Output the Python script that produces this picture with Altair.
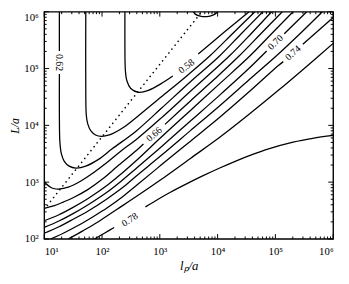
import altair as alt
import pandas as pd

# ---- contour lines, given as log10(l_p/a) and log10(L/a) ----
c056_lp = [3.580, 3.614, 3.699, 3.817, 3.919, 3.987, 4.003]
c056_L = [6.000, 5.958, 5.924, 5.916, 5.941, 5.983, 6.000]

c058a_lp = [2.396, 2.396, 2.404, 2.430, 2.497, 2.633, 2.802, 3.022, 3.225]
c058a_L = [6.000, 5.392, 4.971, 4.785, 4.650, 4.582, 4.616, 4.734, 4.869]
c058b_lp = [3.665, 4.122, 4.545]
c058b_L = [5.257, 5.646, 6.000]

c060_lp = [1.719, 1.719, 1.728, 1.753, 1.804, 1.888, 1.990, 2.125, 2.362, 2.599, 3.022, 3.445, 3.868, 4.257, 4.646]
c060_L = [6.000, 4.549, 4.177, 4.025, 3.907, 3.831, 3.806, 3.831, 3.958, 4.143, 4.498, 4.852, 5.224, 5.612, 6.000]

c062a_lp = [1.262, 1.262]
c062a_L = [6.000, 5.308]
c062b_lp = [1.262, 1.262, 1.271, 1.296, 1.347, 1.431, 1.550, 1.719, 1.939, 2.176, 2.599, 3.022, 3.530, 4.020, 4.409, 4.782]
c062b_L = [4.903, 4.211, 3.705, 3.502, 3.367, 3.283, 3.249, 3.283, 3.401, 3.587, 3.907, 4.295, 4.768, 5.207, 5.612, 6.000]

c064_lp = [1.000, 1.042, 1.110, 1.178, 1.245, 1.415, 1.635, 1.838, 2.091, 2.345, 2.599, 3.022, 3.530, 4.206, 4.579, 4.934]
c064_L = [3.013, 2.962, 2.911, 2.884, 2.878, 2.911, 3.021, 3.156, 3.350, 3.561, 3.755, 4.127, 4.599, 5.224, 5.612, 6.000]

c066a_lp = [1.000, 1.161, 1.330, 1.499, 1.753, 2.007, 2.261, 2.599, 2.717]
c066a_L = [2.540, 2.582, 2.650, 2.726, 2.869, 3.055, 3.274, 3.561, 3.671]
c066b_lp = [3.090, 3.530, 3.953, 4.376, 4.748, 5.120]
c066b_L = [4.017, 4.430, 4.819, 5.224, 5.612, 6.000]

c068_lp = [1.000, 1.245, 1.499, 1.753, 2.091, 2.345, 2.599, 3.022, 3.530, 4.037, 4.562, 4.934, 5.306]
c068_L = [2.321, 2.422, 2.557, 2.709, 2.945, 3.156, 3.384, 3.789, 4.262, 4.734, 5.224, 5.612, 6.000]

c070a_lp = [1.000, 1.245, 1.499, 1.753, 2.091, 2.345, 2.599, 3.022, 3.530, 4.037, 4.545, 4.849]
c070a_L = [2.203, 2.312, 2.447, 2.599, 2.827, 3.030, 3.249, 3.620, 4.076, 4.532, 5.004, 5.308]
c070b_lp = [5.154, 5.543]
c070b_L = [5.612, 6.000]

c072_lp = [1.000, 1.245, 1.499, 1.753, 2.091, 2.345, 2.599, 3.022, 3.530, 4.037, 4.545, 5.019, 5.425, 5.814]
c072_L = [2.101, 2.211, 2.346, 2.489, 2.709, 2.895, 3.114, 3.468, 3.907, 4.346, 4.802, 5.224, 5.612, 6.000]

c074a_lp = [1.110, 1.330, 1.584, 1.838, 2.091, 2.345, 2.599, 3.022, 3.530, 4.037, 4.545, 5.052, 5.137]
c074a_L = [2.000, 2.101, 2.236, 2.388, 2.549, 2.734, 2.945, 3.300, 3.722, 4.143, 4.591, 5.055, 5.122]
c074b_lp = [5.475, 6.000]
c074b_L = [5.426, 5.899]

c076_lp = [1.415, 1.668, 1.922, 2.261, 2.599, 3.022, 3.530, 4.037, 4.545, 5.052, 5.560, 6.000]
c076_L = [2.000, 2.143, 2.295, 2.523, 2.751, 3.046, 3.418, 3.789, 4.194, 4.616, 5.055, 5.443]

c078a_lp = [1.871, 2.041, 2.210]
c078a_L = [2.000, 2.101, 2.203]
c078b_lp = [2.751, 2.971, 3.191, 3.479, 3.750, 4.037, 4.325, 4.596, 4.883, 5.306, 5.645, 6.000]
c078b_L = [2.565, 2.700, 2.827, 2.979, 3.114, 3.249, 3.376, 3.485, 3.587, 3.705, 3.772, 3.823]

# dotted line (position of the minimum)
valley_lp = [1.000, 3.699]
valley_L = [2.523, 5.966]

# inline contour labels
label_text = ["0.58", "0.62", "0.66", "0.70", "0.74", "0.78"]
label_lp = [3.462, 1.262, 2.904, 5.002, 5.306, 2.481]
label_L = [5.038, 5.106, 3.840, 5.460, 5.274, 2.338]
label_angle = [322, 90, 318, 315, 318, 327]

# axis ticks
x_major = [1e1, 1e2, 1e3, 1e4, 1e5, 1e6]
y_major = [1e2, 1e3, 1e4, 1e5, 1e6]
x_minor = [k * 10 ** d for d in range(1, 6) for k in range(2, 10)]
y_minor = [k * 10 ** d for d in range(2, 6) for k in range(2, 10)]

segments = [
    ("0.56", "c056", c056_lp, c056_L),
    ("0.58", "c058a", c058a_lp, c058a_L),
    ("0.58", "c058b", c058b_lp, c058b_L),
    ("0.60", "c060", c060_lp, c060_L),
    ("0.62", "c062a", c062a_lp, c062a_L),
    ("0.62", "c062b", c062b_lp, c062b_L),
    ("0.64", "c064", c064_lp, c064_L),
    ("0.66", "c066a", c066a_lp, c066a_L),
    ("0.66", "c066b", c066b_lp, c066b_L),
    ("0.68", "c068", c068_lp, c068_L),
    ("0.70", "c070a", c070a_lp, c070a_L),
    ("0.70", "c070b", c070b_lp, c070b_L),
    ("0.72", "c072", c072_lp, c072_L),
    ("0.74", "c074a", c074a_lp, c074a_L),
    ("0.74", "c074b", c074b_lp, c074b_L),
    ("0.76", "c076", c076_lp, c076_L),
    ("0.78", "c078a", c078a_lp, c078a_L),
    ("0.78", "c078b", c078b_lp, c078b_L),
]

frames = []
for level, name, lps, Ls in segments:
    frames.append(pd.DataFrame({
        "level": level, "seg": name, "idx": list(range(len(lps))),
        "lp": [10 ** v for v in lps], "L": [10 ** v for v in Ls],
    }))
lines_df = pd.concat(frames, ignore_index=True)

valley_df = pd.DataFrame({"idx": [0, 1], "lp": [10 ** v for v in valley_lp],
                          "L": [10 ** v for v in valley_L]})
labels_df = pd.DataFrame({"text": label_text, "lp": [10 ** v for v in label_lp],
                          "L": [10 ** v for v in label_L], "ang": label_angle})

W, H = 295, 232
FONT = "Liberation Serif"
xs = alt.Scale(type="log", domain=[10, 1e6], nice=False)
ys = alt.Scale(type="log", domain=[100, 1e6], nice=False)
sup = "'10' + ['\u2070','\u00b9','\u00b2','\u00b3','\u2074','\u2075','\u2076'][round(log(datum.value)/LN10)]"

x_axis = alt.Axis(values=x_major, labelExpr=sup, ticks=False, tickSize=0, domain=False,
                  grid=False, labelFont=FONT, labelFontSize=11, labelColor="black",
                  labelPadding=7, title="l\u209a/a", titleFont=FONT, titleFontSize=13,
                  titleFontStyle="italic", titleFontWeight="normal", titleColor="black",
                  titlePadding=3)
y_axis = alt.Axis(values=y_major, labelExpr=sup, ticks=False, tickSize=0, domain=False,
                  grid=False, labelFont=FONT, labelFontSize=11, labelColor="black",
                  labelPadding=6,
                  labelBaseline={"condition": {"test": "datum.value >= 999999", "value": "top"},
                                 "value": "middle"},
                  title="L/a", titleFont=FONT, titleFontSize=12, titleFontStyle="italic",
                  titleFontWeight="normal", titleColor="black", titlePadding=2)

contours = alt.Chart(lines_df).mark_line(
    color="black", strokeWidth=1.3, interpolate="catmull-rom", clip=True
).encode(
    x=alt.X("lp:Q", scale=xs, axis=x_axis),
    y=alt.Y("L:Q", scale=ys, axis=y_axis),
    detail="seg:N",
    order="idx:Q",
)

valley = alt.Chart(valley_df).mark_line(
    color="black", strokeWidth=1.6, strokeDash=[0.1, 5], strokeCap="round", clip=True
).encode(
    x=alt.X("lp:Q", scale=xs, axis=x_axis),
    y=alt.Y("L:Q", scale=ys, axis=y_axis),
    order="idx:Q",
)

labels = alt.Chart(labels_df).mark_text(
    font=FONT, fontSize=10, color="black", align="center", baseline="middle"
).encode(
    x=alt.X("lp:Q", scale=xs, axis=x_axis),
    y=alt.Y("L:Q", scale=ys, axis=y_axis),
    text="text:N",
    angle=alt.Angle("ang:Q", scale=None),
)


def xticks(vals, length, top):
    d = pd.DataFrame({"lp": vals})
    if top:
        y0, y1 = 0, length
    else:
        y0, y1 = H, H - length
    return alt.Chart(d).mark_rule(color="black", strokeWidth=1).encode(
        x=alt.X("lp:Q", scale=xs, axis=x_axis), y=alt.value(y0), y2=alt.value(y1))


def yticks(vals, length, right):
    d = pd.DataFrame({"L": vals})
    if right:
        x0, x1 = W, W - length
    else:
        x0, x1 = 0, length
    return alt.Chart(d).mark_rule(color="black", strokeWidth=1).encode(
        y=alt.Y("L:Q", scale=ys, axis=y_axis), x=alt.value(x0), x2=alt.value(x1))


ticks = [
    xticks(x_major, 5, False), xticks(x_minor, 2.5, False),
    xticks(x_major, 5, True), xticks(x_minor, 2.5, True),
    yticks(y_major, 5, False), yticks(y_minor, 2.5, False),
    yticks(y_major, 5, True), yticks(y_minor, 2.5, True),
]

chart = alt.layer(contours, valley, labels, *ticks).properties(
    width=W, height=H,
    padding={"left": 37, "top": 1, "right": 8, "bottom": 35},
    autosize=alt.AutoSizeParams(type="none"),
).configure_view(stroke="black", strokeWidth=1.4)

chart.save("out.html", embed_options={"renderer": "svg", "actions": False})
